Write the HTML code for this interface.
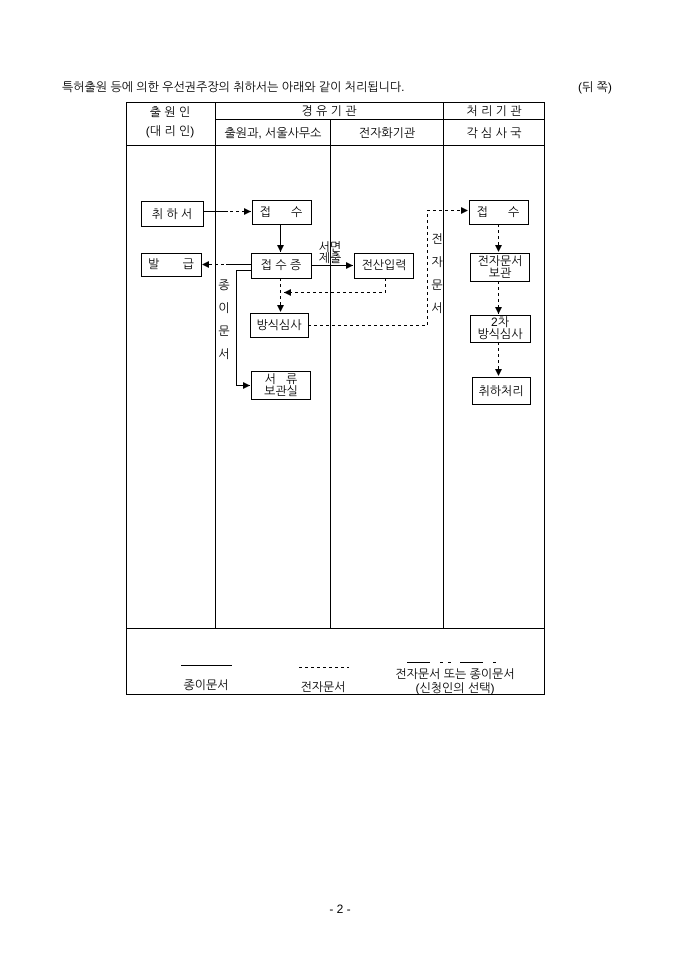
<!DOCTYPE html>
<html><head><meta charset="utf-8"><style>
html,body{margin:0;padding:0;background:#fff;width:680px;height:962px;overflow:hidden}
svg{display:block}
text{font-family:"Liberation Sans","NanumGothic","Noto Sans CJK KR",sans-serif;font-size:12px;fill:#000}
</style></head><body>
<svg width="680" height="962" viewBox="0 0 680 962" xmlns="http://www.w3.org/2000/svg">
<defs>
<marker id="a" viewBox="0 0 10 10" refX="10" refY="5" markerWidth="7" markerHeight="7" orient="auto"><path d="M0,0 L10,5 L0,10 z" fill="#000"/></marker>
</defs>
<text x="62" y="91">특허출원 등에 의한 우선권주장의 취하서는 아래와 같이 처리됩니다.</text>
<text x="578" y="91">(뒤 쪽)</text>
<g stroke="#000" stroke-width="1" fill="none">
<rect x="126.5" y="102.5" width="418" height="592"/>
<line x1="215.5" y1="102" x2="215.5" y2="628"/>
<line x1="330.5" y1="119" x2="330.5" y2="628"/>
<line x1="443.5" y1="102" x2="443.5" y2="628"/>
<line x1="215" y1="119.5" x2="545" y2="119.5"/>
<line x1="126" y1="145.5" x2="545" y2="145.5"/>
<line x1="126" y1="628.5" x2="545" y2="628.5"/>
<rect x="141.5" y="201.5" width="62" height="25"/>
<rect x="252.5" y="200.5" width="59" height="24"/>
<rect x="469.5" y="200.5" width="59" height="24"/>
<rect x="141.5" y="253.5" width="60" height="23"/>
<rect x="251.5" y="253.5" width="60" height="25"/>
<rect x="354.5" y="253.5" width="59" height="25"/>
<rect x="470.5" y="253.5" width="59" height="28"/>
<rect x="250.5" y="313.5" width="58" height="24"/>
<rect x="470.5" y="315.5" width="60" height="27"/>
<rect x="251.5" y="371.5" width="59" height="28"/>
<rect x="472.5" y="377.5" width="58" height="27"/>
<!-- solid -->
<line x1="203" y1="211.5" x2="228" y2="211.5"/>
<line x1="280.5" y1="224" x2="280.5" y2="252" marker-end="url(#a)"/>
<line x1="311" y1="265.5" x2="353" y2="265.5" marker-end="url(#a)"/>
<line x1="251" y1="264.5" x2="226" y2="264.5"/>
<polyline points="251,270.5 236.5,270.5 236.5,385.5 250,385.5" marker-end="url(#a)"/>
<line x1="181" y1="665.5" x2="232" y2="665.5"/>
<!-- dashed -->
<g stroke-dasharray="3,3">
<line x1="230" y1="211.5" x2="251" y2="211.5" marker-end="url(#a)"/>
<line x1="224" y1="264.5" x2="202" y2="264.5" marker-end="url(#a)"/>
<line x1="280.5" y1="278" x2="280.5" y2="312" marker-end="url(#a)"/>
<polyline points="385.5,278 385.5,292.5 284,292.5" marker-end="url(#a)"/>
<polyline points="308,325.5 427.5,325.5 427.5,210.5 468,210.5" marker-end="url(#a)"/>
<line x1="498.5" y1="224" x2="498.5" y2="252" marker-end="url(#a)"/>
<line x1="498.5" y1="281" x2="498.5" y2="314" marker-end="url(#a)"/>
<line x1="498.5" y1="342" x2="498.5" y2="376" marker-end="url(#a)"/>
<line x1="299" y1="667.5" x2="349" y2="667.5"/>
</g>
<line x1="407" y1="662.5" x2="430" y2="662.5"/>
<line x1="460" y1="662.5" x2="483" y2="662.5"/>
<line x1="440" y1="662.5" x2="443" y2="662.5"/>
<line x1="448" y1="662.5" x2="451" y2="662.5"/>
<line x1="493" y1="662.5" x2="496" y2="662.5"/>
</g>
<g text-anchor="middle">
<text x="170" y="116">출 원 인</text>
<text x="170" y="135">(대 리 인)</text>
<text x="329" y="115">경 유 기 관</text>
<text x="494" y="115">처 리 기 관</text>
<text x="273" y="137">출원과, 서울사무소</text>
<text x="387" y="137">전자화기관</text>
<text x="494" y="137">각 심 사 국</text>
<text x="172" y="218">취 하 서</text>
<text x="498" y="216">접&#160;&#160;&#160;&#160;&#160;&#160;수</text>
<text x="281" y="216">접&#160;&#160;&#160;&#160;&#160;&#160;수</text>
<text x="171" y="268">발&#160;&#160;&#160;&#160;&#160;&#160;&#160;급</text>
<text x="281" y="269">접 수 증</text>
<text x="384" y="269">전산입력</text>
<text x="500" y="265">전자문서</text>
<text x="500" y="277">보관</text>
<text x="279" y="329">방식심사</text>
<text x="500" y="326">2차</text>
<text x="500" y="338">방식심사</text>
<text x="281" y="383">서&#160;&#160;&#160;류</text>
<text x="281" y="395">보관실</text>
<text x="501" y="395">취하처리</text>
<text x="330" y="251">서면</text>
<text x="330" y="262">제출</text>
<text x="224" y="289">종</text>
<text x="224" y="312">이</text>
<text x="224" y="335">문</text>
<text x="224" y="358">서</text>
<text x="437" y="243">전</text>
<text x="437" y="266">자</text>
<text x="437" y="289">문</text>
<text x="437" y="312">서</text>
<text x="206" y="689">종이문서</text>
<text x="323" y="691">전자문서</text>
<text x="455" y="678">전자문서 또는 종이문서</text>
<text x="455" y="692">(신청인의 선택)</text>
<text x="340" y="913">- 2 -</text>
</g>
</svg>
</body></html>
